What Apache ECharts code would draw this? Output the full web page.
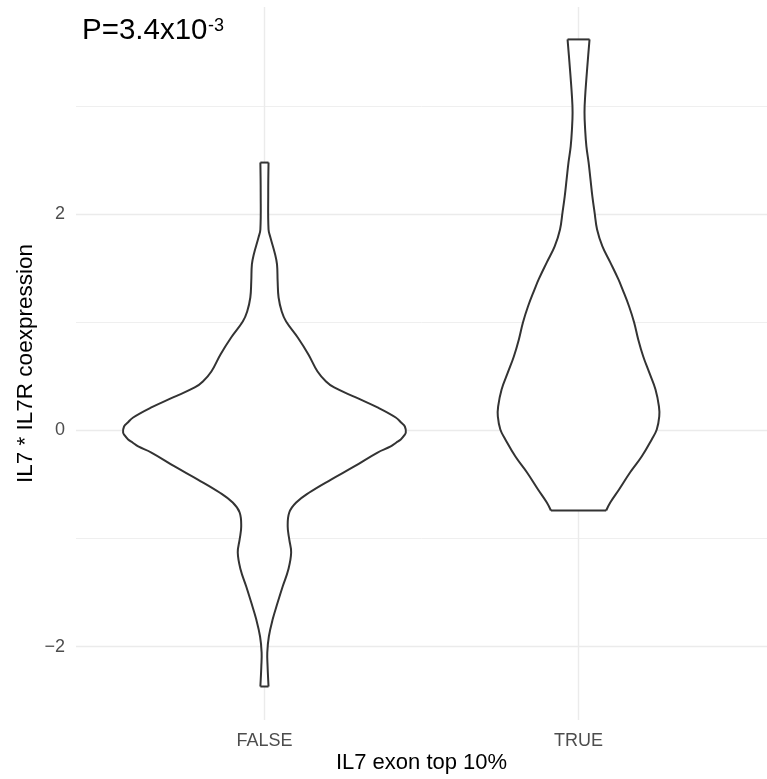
<!DOCTYPE html>
<html>
<head>
<meta charset="utf-8">
<script src="https://cdn.jsdelivr.net/npm/echarts@6/dist/echarts.min.js"></script>
<style>
  html, body { margin: 0; padding: 0; background: #ffffff; }
  #chart { width: 767px; height: 779px; }
</style>
</head>
<body>
<div id="chart"></div>
<script>
// ---------- data ----------
var categories = ['FALSE', 'TRUE'];
var categoryPositions = [1, 2];

// FALSE violin: y values (bottom -> top) and half-widths (x-axis units)
var falseY = [-2.370, -2.185, -2.056, -1.907, -1.750, -1.593, -1.444, -1.287, -1.130, -1.009,
              -0.889, -0.759, -0.667, -0.574, -0.454, -0.333, -0.204, -0.148, -0.111, -0.083,
              -0.046, -0.019, 0.037, 0.074, 0.120, 0.213, 0.306, 0.398, 0.454, 0.546,
              0.704, 0.861, 1.009, 1.102, 1.231, 1.380, 1.537, 1.630, 1.787, 1.861,
              2.200, 2.480];
var falseW = [0.013, 0.010, 0.009, 0.014, 0.026, 0.042, 0.058, 0.076, 0.085, 0.079,
              0.074, 0.079, 0.101, 0.143, 0.212, 0.286, 0.360, 0.402, 0.420, 0.434,
              0.445, 0.450, 0.447, 0.435, 0.418, 0.360, 0.291, 0.222, 0.196, 0.169,
              0.140, 0.106, 0.069, 0.055, 0.045, 0.042, 0.040, 0.034, 0.019, 0.013,
              0.012, 0.013];

// TRUE violin
var trueY = [-0.741, -0.667, -0.546, -0.389, -0.241, -0.083, 0.009, 0.130, 0.222, 0.380,
             0.537, 0.685, 0.843, 1.000, 1.148, 1.306, 1.398, 1.556, 1.704, 1.861,
             2.019, 2.167, 2.324, 2.481, 2.630, 2.787, 2.944, 3.093, 3.407, 3.620];
var trueW = [0.088, 0.101, 0.129, 0.164, 0.201, 0.233, 0.249, 0.257, 0.256, 0.245,
             0.225, 0.206, 0.190, 0.177, 0.161, 0.140, 0.127, 0.101, 0.076, 0.059,
             0.051, 0.044, 0.038, 0.032, 0.025, 0.021, 0.019, 0.021, 0.029, 0.035];

var yMajorTicks = [-2, 0, 2];
var yMinorTicks = [-1, 1, 3];
var annotationMain = 'P=3.4x10';
var annotationSup = '-3';
var xTitle = 'IL7 exon top 10%';
var yTitle = 'IL7 * IL7R coexpression';

var groups = [
  { x: categoryPositions[0], y: falseY, w: falseW },
  { x: categoryPositions[1], y: trueY, w: trueW }
];

// ---------- chart ----------
var FONT = 'Liberation Sans, Arial, Helvetica, sans-serif';
var chart = echarts.init(document.getElementById('chart'), null, { renderer: 'canvas' });

function fmtY(v) { return v < 0 ? '\u2212' + Math.abs(v) : String(v); }

var option = {
  backgroundColor: '#ffffff',
  animation: false,
  grid: { left: 76, top: 7, bottom: 59, width: 693, containLabel: false },
  xAxis: {
    type: 'value', min: 0.4, max: 2.6,
    name: xTitle, nameLocation: 'middle', nameGap: 32, nameMoveOverlap: false,
    nameTextStyle: { color: '#000000', fontSize: 22, fontFamily: FONT },
    axisLine: { show: false },
    axisTick: { show: false, customValues: categoryPositions },
    axisLabel: {
      customValues: categoryPositions, margin: 12,
      color: '#4d4d4d', fontSize: 18, fontFamily: FONT,
      formatter: function (v) { return categories[categoryPositions.indexOf(v)]; }
    },
    splitLine: { show: true, lineStyle: { color: '#ebebeb', width: 1.4 } }
  },
  yAxis: [{
    type: 'value', min: -2.68, max: 3.92,
    name: yTitle, nameLocation: 'middle', nameGap: 39, nameMoveOverlap: false,
    nameTextStyle: { color: '#000000', fontSize: 22.5, fontFamily: FONT },
    axisLine: { show: false },
    axisTick: { show: false, customValues: yMajorTicks },
    axisLabel: {
      customValues: yMajorTicks, margin: 11,
      color: '#4d4d4d', fontSize: 18, fontFamily: FONT,
      formatter: fmtY
    },
    splitLine: { show: true, lineStyle: { color: '#ebebeb', width: 1.4 } }
  }, {
    type: 'value', min: -2.68, max: 3.92, position: 'left',
    axisLine: { show: false },
    axisTick: { show: false, customValues: yMinorTicks },
    axisLabel: { show: false },
    splitLine: { show: true, lineStyle: { color: '#ededed', width: 0.9 } }
  }],
  graphic: [
    { type: 'text', left: 82, top: 16, style: { text: annotationMain, font: '29.5px ' + FONT, fill: '#000000' } },
    { type: 'text', left: 208, top: 17, style: { text: annotationSup, font: '18px ' + FONT, fill: '#000000' } }
  ],
  series: [{
    type: 'custom',
    coordinateSystem: 'cartesian2d',
    xAxisIndex: 0, yAxisIndex: 0,
    data: groups.map(function (g, i) { return [g.x, i]; }),
    encode: { x: 0 },
    renderItem: function (params, api) {
      var g = groups[params.dataIndex];
      var right = [], left = [];
      for (var i = 0; i < g.y.length; i++) {
        right.push(api.coord([g.x + g.w[i], g.y[i]]));
        left.push(api.coord([g.x - g.w[i], g.y[i]]));
      }
      var n = g.y.length;
      var stroke = { stroke: '#333333', lineWidth: 2, fill: null, lineJoin: 'round' };
      return {
        type: 'group',
        children: [
          { type: 'polygon', shape: { points: right.concat(left.slice().reverse()) },
            style: { fill: '#ffffff', stroke: null } },
          { type: 'polyline', shape: { points: right, smooth: 0.4 }, style: stroke },
          { type: 'polyline', shape: { points: left, smooth: 0.4 }, style: stroke },
          { type: 'line', shape: { x1: left[0][0], y1: left[0][1], x2: right[0][0], y2: right[0][1] }, style: stroke },
          { type: 'line', shape: { x1: left[n - 1][0], y1: left[n - 1][1], x2: right[n - 1][0], y2: right[n - 1][1] }, style: stroke }
        ]
      };
    }
  }]
};
chart.setOption(option);
</script>
</body>
</html>
